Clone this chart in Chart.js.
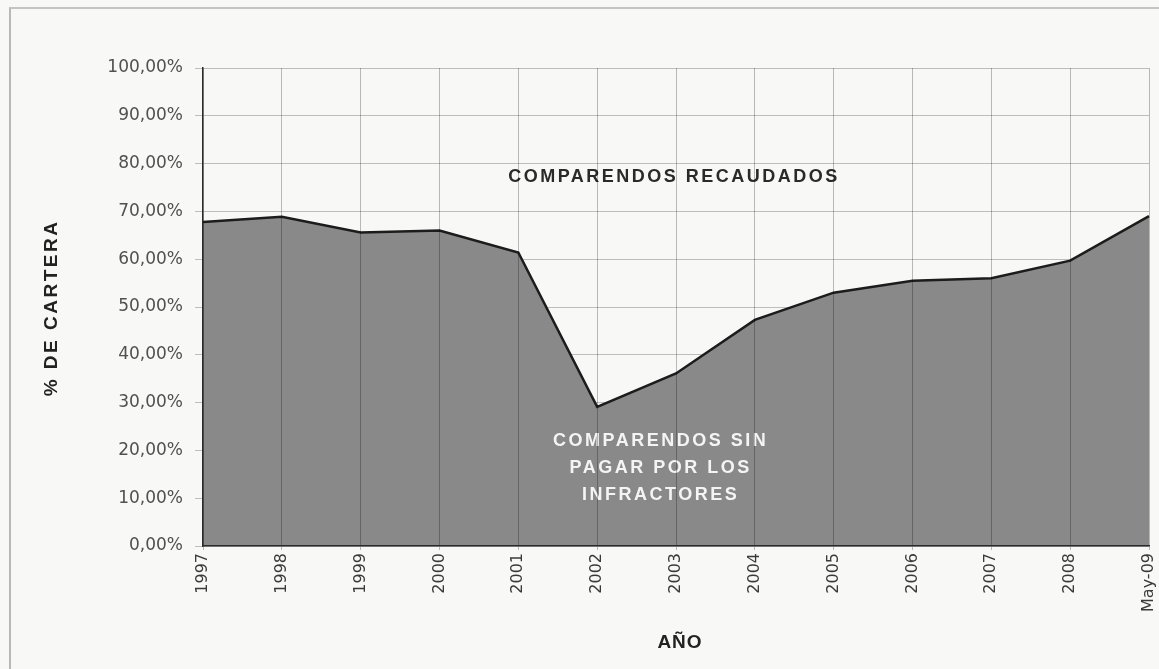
<!DOCTYPE html>
<html>
<head>
<meta charset="utf-8">
<script src="https://cdn.jsdelivr.net/npm/chart.js@4/dist/chart.umd.min.js"></script>
<style>
  html, body { margin: 0; padding: 0; background: #f8f8f6; }
  #wrap { position: relative; width: 1159px; height: 669px; overflow: hidden; }
  #frame { position: absolute; left: 9px; top: 7px; width: 1160px; height: 680px;
           border-left: 2px solid #b8b8b8; border-top: 2px solid #c4c4c4; pointer-events: none; }
  canvas { position: absolute; left: 0; top: 0; }
</style>
</head>
<body>
<div id="wrap">
  <canvas id="c" width="1159" height="669"></canvas>
  <div id="frame"></div>
</div>
<script>
const categories = ["1997","1998","1999","2000","2001","2002","2003","2004","2005","2006","2007","2008","May-09"];
const recaudoPct = [67.8, 68.9, 65.6, 66.0, 61.4, 29.1, 36.1, 47.3, 53.0, 55.5, 56.0, 59.7, 69.0];
const yTicks = [0, 10, 20, 30, 40, 50, 60, 70, 80, 90, 100];
const labelTop = "COMPARENDOS RECAUDADOS";
const labelBottom = ["COMPARENDOS SIN", "PAGAR POR LOS", "INFRACTORES"];
const yTitle = "% DE CARTERA";
const xTitle = "AÑO";

const textPlugin = {
  id: 'texts',
  afterDatasetsDraw(chart) {
    const ctx = chart.ctx;
    const x = chart.scales.x, y = chart.scales.y;
    ctx.save();
    ctx.textAlign = 'center';
    ctx.textBaseline = 'middle';
    ctx.font = 'bold 18px "Liberation Sans", Arial, sans-serif';
    ctx.letterSpacing = '2.5px';
    ctx.fillStyle = '#2a2a2a';
    const midX = (x.getPixelForValue(5) + x.getPixelForValue(7)) / 2 - 2;
    ctx.fillText(labelTop, midX, y.getPixelForValue(77.2));
    ctx.fillStyle = '#f4f4f4';
    const lx = (x.getPixelForValue(5) + x.getPixelForValue(6)) / 2 + 24;
    const ly0 = y.getPixelForValue(21.9);
    labelBottom.forEach((t, i) => ctx.fillText(t, lx, ly0 + i * 27));
    ctx.restore();
  },
  afterDraw(chart) {
    const ctx = chart.ctx;
    ctx.save();
    ctx.fillStyle = '#222';
    ctx.textAlign = 'center';
    ctx.textBaseline = 'middle';
    ctx.font = 'bold 19px "Liberation Sans", Arial, sans-serif';
    ctx.letterSpacing = '1px';
    ctx.fillText(xTitle, 680, 643);
    ctx.translate(52, 308);
    ctx.rotate(-Math.PI / 2);
    ctx.font = 'bold 19px "Liberation Sans", Arial, sans-serif';
    ctx.letterSpacing = '2.5px';
    ctx.fillText(yTitle, 0, 0);
    ctx.restore();
  }
};

new Chart(document.getElementById('c'), {
  type: 'line',
  data: {
    labels: categories,
    datasets: [{
      data: recaudoPct,
      fill: 'origin',
      backgroundColor: '#898989',
      borderColor: '#1c1c1c',
      borderWidth: 2.5,
      pointRadius: 0,
      tension: 0
    }]
  },
  options: {
    responsive: false,
    animation: false,
    devicePixelRatio: 1,
    layout: { padding: { left: 0, right: 10, top: 68, bottom: 0 } },
    plugins: { legend: { display: false }, tooltip: { enabled: false } },
    scales: {
      x: {
        type: 'category',
        offset: false,
        afterFit(s) { s.height = 123; s.paddingLeft = 0; s.paddingRight = 0; },
        grid: { color: 'rgba(0,0,0,0.26)', lineWidth: 1, tickLength: 4, drawTicks: true, z: 1 },
        border: { color: '#2a2a2a', width: 1.5, z: 2 },
        ticks: {
          autoSkip: false, minRotation: 90, maxRotation: 90, padding: 3,
          color: '#3a3a3a',
          font: { family: '"DejaVu Sans", sans-serif', size: 16 }
        }
      },
      y: {
        min: 0, max: 100,
        afterFit(s) { s.width = 203; s.paddingTop = 0; s.paddingBottom = 0; },
        afterBuildTicks(s) { s.ticks = yTicks.map(v => ({ value: v })); },
        grid: { color: '#bdbdbd', lineWidth: 1, tickLength: 8 },
        border: { color: '#2a2a2a', width: 1.5, z: 2 },
        ticks: {
          padding: 12,
          color: '#505050',
          font: { family: '"DejaVu Sans", sans-serif', size: 17 },
          callback: v => v.toFixed(2).replace('.', ',') + '%'
        }
      }
    }
  },
  plugins: [textPlugin, {
    id: 'bg',
    beforeDraw(chart) {
      const ctx = chart.ctx;
      ctx.save();
      ctx.fillStyle = '#f8f8f6';
      ctx.fillRect(0, 0, chart.width, chart.height);
      ctx.restore();
    }
  }]
});
</script>
</body>
</html>
